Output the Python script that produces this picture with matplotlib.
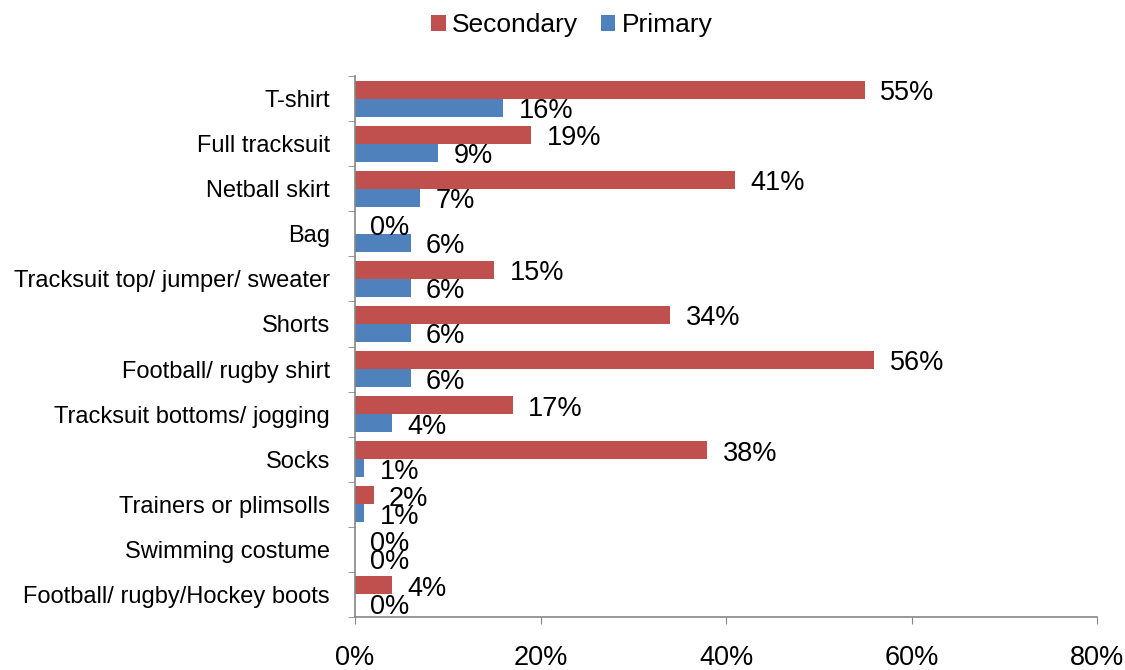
import matplotlib
matplotlib.use("Agg")
import matplotlib.pyplot as plt
import numpy as np
from matplotlib.ticker import FixedLocator, PercentFormatter

categories = ["T-shirt", "Full tracksuit", "Netball skirt", "Bag",
              "Tracksuit top/ jumper/ sweater", "Shorts", "Football/ rugby shirt",
              "Tracksuit bottoms/ jogging", "Socks", "Trainers or plimsolls",
              "Swimming costume", "Football/ rugby/Hockey boots"]
secondary = [55, 19, 41, 0, 15, 34, 56, 17, 38, 2, 0, 4]
primary = [16, 9, 7, 6, 6, 6, 6, 4, 1, 1, 0, 0]
xticks = [0, 20, 40, 60, 80]

plt.rcParams['font.family'] = ['Liberation Sans', 'DejaVu Sans']
fig = plt.figure(figsize=(11.25, 6.7), dpi=100)
ax = fig.add_axes([355/1125, 1-617/670, (1097-355)/1125, (617-76)/670])

n = len(categories)
y = np.arange(n)
h = 0.4
red = "#C0504D"
blue = "#4F81BD"
b1 = ax.barh(y - h/2, secondary, height=h, color=red, label="Secondary")
b2 = ax.barh(y + h/2, primary, height=h, color=blue, label="Primary")

for yi, v in zip(y, secondary):
    ax.annotate(f"{v}%", (v, yi - h/2), xytext=(11, -2.5), textcoords="offset points",
                ha="left", va="center", fontsize=19.5)
for yi, v in zip(y, primary):
    ax.annotate(f"{v}%", (v, yi + h/2), xytext=(11, -2.5), textcoords="offset points",
                ha="left", va="center", fontsize=19.5)

ax.set_ylim(n - 0.5, -0.5)
ax.set_xlim(0, 80)
ax.set_yticks(y)
ax.set_yticklabels(categories, fontsize=17)
ax.tick_params(axis="y", length=0, pad=18)
ax.yaxis.set_minor_locator(FixedLocator(np.arange(-0.5, n, 1)))
ax.tick_params(axis="y", which="minor", length=5, color="#868686", direction="out")
ax.set_xticks(xticks)
ax.xaxis.set_major_formatter(PercentFormatter(decimals=0))
ax.tick_params(axis="x", length=5, color="#868686", labelsize=19.5, pad=15)
for s in ["top", "right"]:
    ax.spines[s].set_visible(False)
for s in ["left", "bottom"]:
    ax.spines[s].set_color("#868686")
    ax.spines[s].set_linewidth(1.2)

fig.legend(handles=[b1, b2], labels=["Secondary", "Primary"], loc="center",
           bbox_to_anchor=(572/1125, 1-25/670), ncol=2, frameon=False, fontsize=19,
           handlelength=0.55, handleheight=0.55, handletextpad=0.25, columnspacing=0.85)

fig.savefig("out.png", dpi=100)
